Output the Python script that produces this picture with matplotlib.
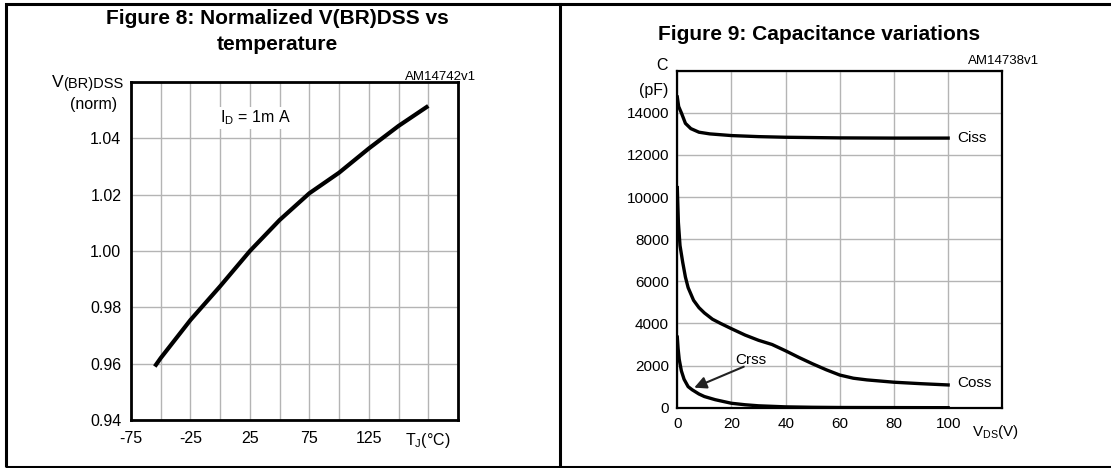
import matplotlib
matplotlib.use("Agg")
import matplotlib.pyplot as plt
from matplotlib.patches import Rectangle
from matplotlib.lines import Line2D
import numpy as np

plt.rcParams['font.family'] = ['Liberation Sans', 'DejaVu Sans']
plt.rcParams['mathtext.fontset'] = 'custom'
plt.rcParams['mathtext.rm'] = 'Liberation Sans'

# Figure 8 data: normalized V(BR)DSS vs temperature
tj = [-55, -50, -25, 0, 25, 50, 75, 100, 125, 150, 175]
vbr = [0.959, 0.962, 0.9755, 0.9875, 1.000, 1.011, 1.0205, 1.0278, 1.0364, 1.0444, 1.0515]
tj_ticks = [-75, -50, -25, 0, 25, 50, 75, 100, 125, 150, 175, 200]
tj_labels = ['-75', '', '-25', '', '25', '', '75', '', '125', '', r'T$_\mathregular{J}$(°C)', '']
vbr_ticks = [0.94, 0.96, 0.98, 1.00, 1.02, 1.04, 1.06]
vbr_labels = ['0.94', '0.96', '0.98', '1.00', '1.02', '1.04', '']

# Figure 9 data: capacitance variations
ciss_v = [0, 0.5, 1.5, 3, 5, 8, 12, 20, 30, 40, 60, 80, 100]
ciss = [14750, 14300, 14000, 13500, 13250, 13080, 13000, 12920, 12870, 12840, 12810, 12800, 12800]
coss_v = [0, 0.4, 1, 2, 3, 4, 6, 8, 10, 13, 16, 20, 25, 30, 35, 40, 45, 50, 55, 60, 65, 70, 80, 90, 100]
coss = [10450, 8800, 7700, 6900, 6200, 5700, 5100, 4750, 4500, 4200, 4000, 3750, 3450, 3200,
        3000, 2700, 2380, 2080, 1800, 1550, 1400, 1320, 1210, 1140, 1080]
crss_v = [0, 0.3, 0.7, 1.5, 2.5, 4, 5.5, 8, 10, 14, 20, 25, 30, 40, 50, 60, 80, 100]
crss = [3350, 2800, 2300, 1750, 1350, 1000, 850, 650, 530, 380, 210, 140, 90, 40, 20, 10, 5, 0]
vds_ticks = [0, 20, 40, 60, 80, 100, 120]
vds_labels = ['0', '20', '40', '60', '80', '100', '']
c_ticks = list(range(0, 16001, 2000))
c_labels = [str(v) for v in c_ticks[:-1]] + ['']

W, H = 1111, 468
fig = plt.figure(figsize=(W / 100, H / 100), dpi=100)


def fx(px):
    return px / W


def fy(py):
    return 1 - py / H


# outer frame and divider
fig.add_artist(Rectangle((fx(6), fy(467)), fx(1111 - 6) + 0.01, fy(4) - fy(467),
                         transform=fig.transFigure, fill=False, lw=2.2, ec='black'))
fig.add_artist(Line2D([fx(560), fx(560)], [fy(4), fy(467)], transform=fig.transFigure,
                      lw=2.2, color='black'))


def style(ax, lw):
    for s in ax.spines.values():
        s.set_linewidth(lw)
        s.set_color('black')
    ax.grid(True, color='#b4b4b4', lw=1.0)
    ax.set_axisbelow(True)
    ax.tick_params(length=0)


# ---- Figure 8
ax1 = fig.add_axes([fx(131), fy(420), fx(458 - 131), fy(82) - fy(420)])
style(ax1, 2.0)
ax1.plot(tj, vbr, color='black', lw=3.0, solid_capstyle='butt')
ax1.set_xlim(-75, 200)
ax1.set_ylim(0.94, 1.06)
ax1.set_xticks(tj_ticks)
ax1.set_xticklabels(tj_labels, fontsize=11.5)
ax1.set_yticks(vbr_ticks)
ax1.set_yticklabels(vbr_labels, fontsize=11.5)
ax1.tick_params(axis='y', pad=7)
ax1.tick_params(axis='x', pad=8)
ax1.text(-0.5, 1.0472, r'I$_\mathregular{D}$ = 1m A', fontsize=11.5, va='center', ha='left',
         bbox=dict(fc='white', ec='none', pad=1))
fig.text(fx(277), fy(18), 'Figure 8: Normalized V(BR)DSS vs', fontsize=15,
         fontweight='bold', ha='center', va='center')
fig.text(fx(277), fy(45), 'temperature', fontsize=15, fontweight='bold',
         ha='center', va='center')
fig.text(fx(476), fy(77), 'AM14742v1', fontsize=9.5, ha='right', va='center')
fig.text(fx(64), fy(87), 'V', fontsize=12.5, ha='right', va='baseline')
fig.text(fx(123), fy(88), '(BR)DSS', fontsize=10.5, ha='right', va='baseline')
fig.text(fx(117), fy(104), '(norm)', fontsize=11.5, ha='right', va='center')

# ---- Figure 9
ax2 = fig.add_axes([fx(677.3), fy(407.7), fx(1002.3 - 677.3), fy(70.7) - fy(407.7)])
style(ax2, 1.6)
ax2.plot(ciss_v, ciss, color='black', lw=2.4)
ax2.plot(coss_v, coss, color='black', lw=2.4)
ax2.plot(crss_v, crss, color='black', lw=2.4)
ax2.set_xlim(0, 120)
ax2.set_ylim(0, 16000)
ax2.set_xticks(vds_ticks)
ax2.set_xticklabels(vds_labels, fontsize=11)
ax2.set_yticks(c_ticks)
ax2.set_yticklabels(c_labels, fontsize=11)
ax2.tick_params(axis='y', pad=6)
ax2.tick_params(axis='x', pad=7)
ax2.text(103.5, 12800, 'Ciss', fontsize=11, va='center', ha='left')
ax2.text(103.5, 1150, 'Coss', fontsize=11, va='center', ha='left')
ax2.text(21.5, 2250, 'Crss', fontsize=11, va='center', ha='left')
ax2.annotate('', xy=(5.3, 900), xytext=(25.5, 2000),
             arrowprops=dict(arrowstyle='-|>', color='#222222', lw=1.5, mutation_scale=18))
ax2.text(117.5, -1.0 * 16000 * 0.045, r'V$_\mathregular{DS}$(V)', fontsize=11,
         ha='center', va='top')
fig.text(fx(819), fy(35), 'Figure 9: Capacitance variations', fontsize=15,
         fontweight='bold', ha='center', va='center')
fig.text(fx(1039), fy(61), 'AM14738v1', fontsize=9.5, ha='right', va='center')
fig.text(fx(668), fy(66), 'C', fontsize=11.5, ha='right', va='center')
fig.text(fx(668), fy(90), '(pF)', fontsize=11.5, ha='right', va='center')

fig.savefig('out.png', dpi=100)
